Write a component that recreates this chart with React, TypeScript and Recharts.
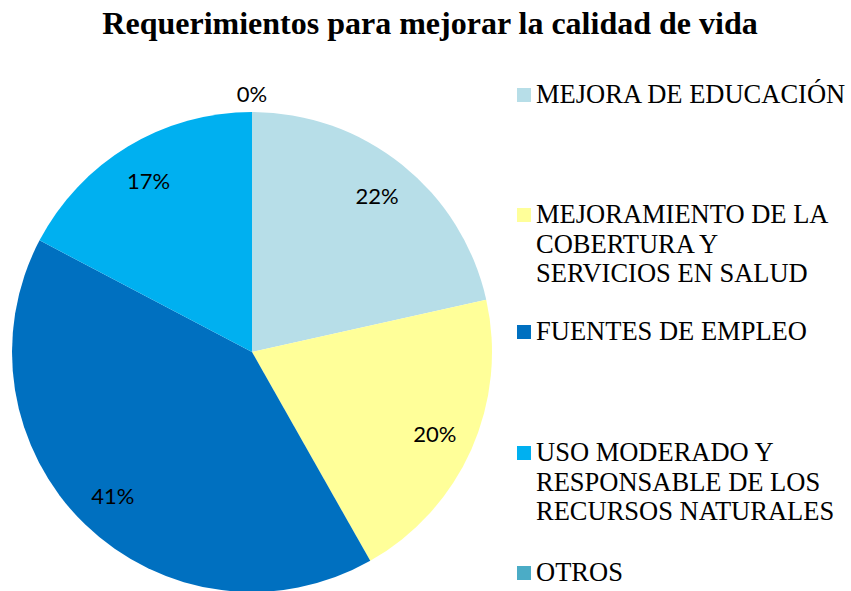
import { PieChart, Pie, Cell } from 'recharts';

const categories = [
  'MEJORA DE EDUCACIÓN',
  'MEJORAMIENTO DE LA COBERTURA Y SERVICIOS EN SALUD',
  'FUENTES DE EMPLEO',
  'USO MODERADO Y RESPONSABLE DE LOS RECURSOS NATURALES',
  'OTROS',
];
// legend text as wrapped in the reference
const legendLines = [
  ['MEJORA DE EDUCACIÓN'],
  ['MEJORAMIENTO DE LA', 'COBERTURA Y', 'SERVICIOS EN SALUD'],
  ['FUENTES DE EMPLEO'],
  ['USO MODERADO Y', 'RESPONSABLE DE LOS', 'RECURSOS NATURALES'],
  ['OTROS'],
];
const values = [21.5, 20.3, 40.9, 17.3, 0];
const colors = ['#B7DEE8', '#FFFF99', '#0070C0', '#00B0F0', '#4BACC6'];

const data = categories.map((name, i) => ({ name, value: values[i] }));

const LEGEND_TOPS = [80, 200, 317, 438, 558];
const RAD = Math.PI / 180;
const SERIF = "'Liberation Serif', 'Times New Roman', serif";

const renderLabel = (props: any) => {
  const { cx, cy, midAngle, outerRadius, percent, value } = props;
  const r = value > 0 ? outerRadius - 40 : outerRadius + 19;
  const x = cx + r * Math.cos(-midAngle * RAD);
  const y = cy + r * Math.sin(-midAngle * RAD);
  return (
    <text
      x={x}
      y={y}
      fill="#000"
      textAnchor="middle"
      dominantBaseline="central"
      fontFamily="Lato, 'Open Sans', sans-serif"
      fontSize={22}
    >
      {`${Math.round(percent * 100)}%`}
    </text>
  );
};

export default function App() {
  return (
    <div style={{ position: 'absolute', left: 0, top: 0, width: 851, height: 591, background: '#fff' }}>
      <div
        style={{
          position: 'absolute',
          left: 0,
          top: 5,
          width: 860,
          textAlign: 'center',
          fontFamily: SERIF,
          fontWeight: 'bold',
          fontSize: 32,
          color: '#000',
          zIndex: 2,
        }}
      >
        Requerimientos para mejorar la calidad de vida
      </div>
      <PieChart width={851} height={591} margin={{ top: 0, right: 0, bottom: 0, left: 0 }}>
        <Pie
          data={data}
          dataKey="value"
          nameKey="name"
          cx={252}
          cy={352}
          outerRadius={240}
          startAngle={90}
          endAngle={-270}
          stroke="none"
          label={renderLabel}
          labelLine={false}
          isAnimationActive={false}
        >
          {data.map((_, i) => (
            <Cell key={`cell-${i}`} fill={colors[i]} />
          ))}
        </Pie>
      </PieChart>
      {legendLines.map((lines, i) => (
        <div
          key={i}
          style={{
            position: 'absolute',
            left: 517,
            top: LEGEND_TOPS[i],
            display: 'flex',
            alignItems: 'flex-start',
          }}
        >
          <div style={{ width: 14, height: 14, background: colors[i], marginTop: 8, marginRight: 5 }} />
          <div
            style={{
              fontFamily: SERIF,
              fontSize: 26.5,
              lineHeight: '29.5px',
              color: '#000',
              whiteSpace: 'nowrap',
            }}
          >
            {lines.map((l, j) => (
              <div key={j}>{l}</div>
            ))}
          </div>
        </div>
      ))}
    </div>
  );
}
